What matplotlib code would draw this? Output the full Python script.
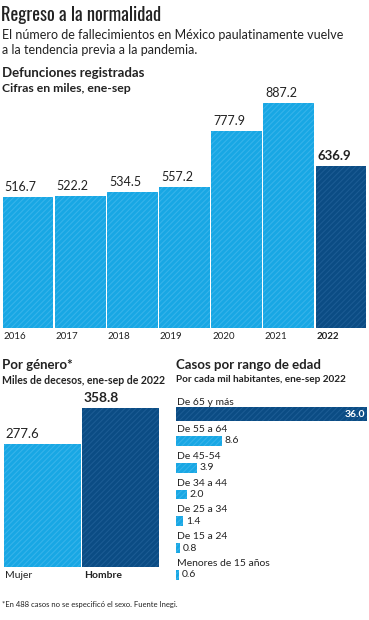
import matplotlib
matplotlib.use("Agg")
import matplotlib.pyplot as plt

# data
years = ["2016", "2017", "2018", "2019", "2020", "2021", "2022"]
defunciones = [516.7, 522.2, 534.5, 557.2, 777.9, 887.2, 636.9]
generos = ["Mujer", "Hombre"]
genero_vals = [277.6, 358.8]
edades = ["De 65 y más", "De 55 a 64", "De 45-54", "De 34 a 44",
          "De 25 a 34", "De 15 a 24", "Menores de 15 años"]
edad_vals = [36.0, 8.6, 3.9, 2.0, 1.4, 0.8, 0.6]

LIGHT = "#18a7e4"
LIGHT_H = "#36b3ea"
DARK = "#0b4c84"
DARK_H = "#1b5b93"
TXT = "#222222"
FONT = "Lato"
TITLE_FONT = ["Oswald", "Roboto Condensed", "DejaVu Sans"]

plt.rcParams["hatch.linewidth"] = 0.8
plt.rcParams["font.family"] = FONT

W, H = 369, 620
fig = plt.figure(figsize=(W / 100, H / 100), dpi=100)


def ax_px(x0, y0, x1, y1):
    # axes from pixel box (top-left origin)
    return fig.add_axes([x0 / W, 1 - y1 / H, (x1 - x0) / W, (y1 - y0) / H])


def t(x, y, s, **kw):
    fig.text(x / W, 1 - y / H, s, va="center", ha="left", color=TXT, **kw)


def pt(px):
    return px * 0.72


def hatched(bars, hcol):
    for b in bars:
        b.set_hatch("//////")
        b.set_edgecolor(hcol)
        b.set_linewidth(0)


# titles
t(1, 15, "Regreso a la normalidad", fontsize=13.3, fontweight="medium",
  family=TITLE_FONT)
t(2, 35, "El número de fallecimientos en México paulatinamente vuelve", fontsize=9)
t(2, 50, "a la tendencia previa a la pandemia.", fontsize=9)
t(2, 73, "Defunciones registradas", fontsize=9.5, fontweight="bold")
t(2, 89, "Cifras en miles, ene-sep", fontsize=8.8, fontweight="bold")

# top bar chart
ax = ax_px(2, 103, 367, 328)
cols = [LIGHT] * 6 + [DARK]
hcols = [LIGHT_H] * 6 + [DARK_H]
for i, v in enumerate(defunciones):
    b = ax.bar(i, v, width=0.97, color=cols[i])
    hatched(b, hcols[i])
    bold = i == len(defunciones) - 1
    ax.annotate(f"{v:.1f}", xy=(i - 0.45, v), xytext=(0, pt(4)),
                textcoords="offset points", ha="left", va="bottom",
                fontsize=9 if not bold else 9.5, color=TXT,
                fontweight="bold" if bold else "normal")
    ax.annotate(years[i], xy=(i - 0.47, 0), xytext=(0, -pt(4)),
                textcoords="offset points", ha="left", va="top",
                fontsize=7, color=TXT,
                fontweight="bold" if bold else "normal")
ax.set_xlim(-0.5, len(defunciones) - 0.5)
ax.set_ylim(0, max(defunciones))
ax.axis("off")

# gender
t(2, 365, "Por género*", fontsize=9.5, fontweight="bold")
t(2, 380, "Miles de decesos, ene-sep de 2022", fontsize=7.6, fontweight="bold")
axg = ax_px(3, 408, 160, 567)
gc = [LIGHT, DARK]
gh = [LIGHT_H, DARK_H]
for i, v in enumerate(genero_vals):
    b = axg.bar(i, v, width=0.98, color=gc[i])
    hatched(b, gh[i])
    bold = i == 1
    axg.annotate(f"{v:.1f}", xy=(i - 0.47, v), xytext=(0, pt(4)),
                 textcoords="offset points", ha="left", va="bottom",
                 fontsize=10 if bold else 9.5, color=TXT,
                 fontweight="bold" if bold else "normal")
    axg.annotate(generos[i], xy=(i - 0.47, 0), xytext=(0, -pt(4)),
                 textcoords="offset points", ha="left", va="top",
                 fontsize=7.5, color=TXT,
                 fontweight="bold" if bold else "normal")
axg.set_xlim(-0.5, 1.5)
axg.set_ylim(0, max(genero_vals))
axg.axis("off")

# age
t(176, 365, "Casos por rango de edad", fontsize=9.5, fontweight="bold")
t(176, 380, "Por cada mil habitantes, ene-sep 2022", fontsize=7.2, fontweight="bold")
axa = ax_px(176, 400.6, 367, 588.4)
for i, v in enumerate(edad_vals):
    first = i == 0
    b = axa.barh(i, v, height=0.49 if first else 0.37,
                 color=DARK if first else LIGHT)
    hatched(b, DARK_H if first else LIGHT_H)
    axa.annotate(edades[i], xy=(0, i), xytext=(1, pt(11.5)),
                 textcoords="offset points", ha="left", va="center",
                 fontsize=7.5, color=TXT)
    if first:
        axa.annotate(f"{v:.1f}", xy=(v, i), xytext=(-pt(2), 0),
                     textcoords="offset points", ha="right", va="center",
                     fontsize=7.5, color="white", fontweight="bold")
    else:
        axa.annotate(f"{v:.1f}", xy=(v, i), xytext=(pt(3), 0),
                     textcoords="offset points", ha="left", va="center",
                     fontsize=7.5, color=TXT)
axa.set_xlim(0, max(edad_vals))
axa.set_ylim(len(edad_vals) - 0.5, -0.5)
axa.axis("off")

t(2, 605, "*En 488 casos no se especificó el sexo. Fuente Inegi.", fontsize=5.5)

fig.savefig("out.png", dpi=100)
